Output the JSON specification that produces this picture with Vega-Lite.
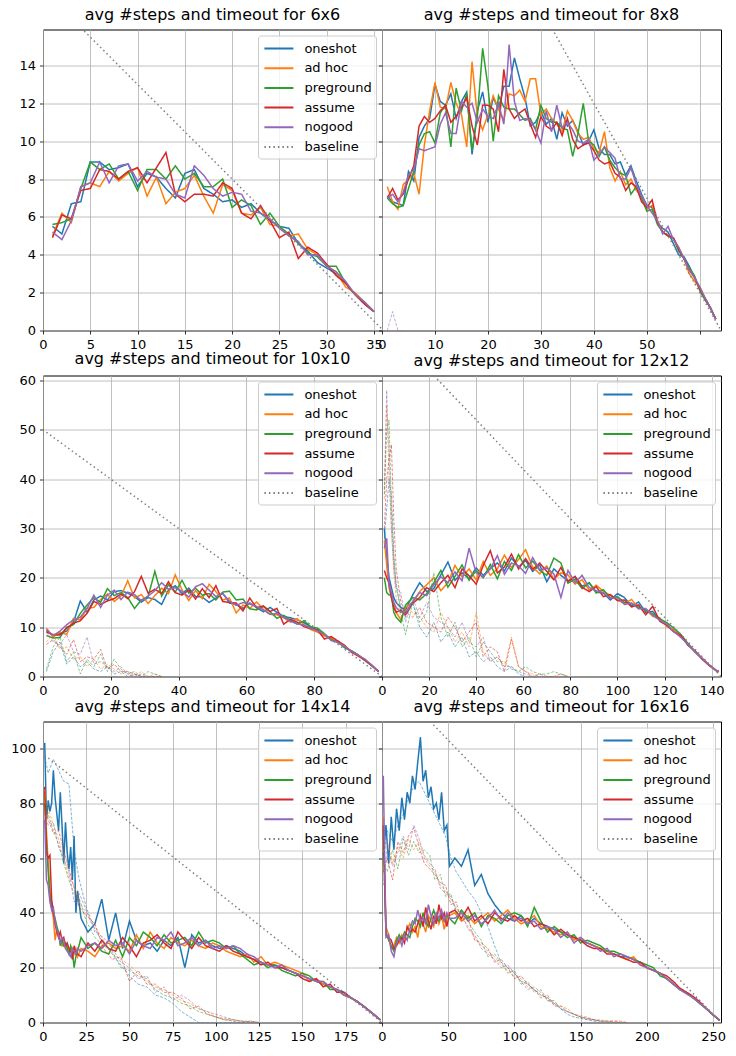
{
"$schema": "https://vega.github.io/schema/vega-lite/v6.json",
"background": "white",
"autosize": {"type": "pad"},
"padding": {"left": 10, "top": 5.5, "right": 4, "bottom": 4},
"bounds": "flush",
"columns": 2,
"spacing": {"row": 45, "column": 0},
"config": {
 "font": "DejaVu Sans",
 "view": {"stroke": "#000000", "strokeWidth": 1},
 "axis": {"domain": false, "grid": true, "gridColor": "#b0b0b0", "gridWidth": 0.8, "ticks": true, "tickColor": "#000000", "tickSize": 3.5, "tickWidth": 0.8, "labelFont": "DejaVu Sans", "labelFontSize": 13, "labelColor": "#000000", "labelPadding": 4, "title": null, "labelFlush": false, "labelOverlap": false, "labelBound": false},
 "legend": {"fillColor": "rgba(255,255,255,0.8)", "strokeColor": "#cccccc", "cornerRadius": 3, "padding": 4, "symbolType": "M-0.825,0H2.8", "symbolSize": 256, "symbolStrokeWidth": 2, "labelFont": "DejaVu Sans", "labelFontSize": 13, "labelColor": "#000000", "rowPadding": 3.7, "labelOffset": 24.4, "offset": 6},
 "title": {"font": "DejaVu Sans", "fontSize": 16, "fontWeight": "normal", "color": "#000000", "offset": 7}
},
"resolve": {"scale": {"color": "independent", "strokeDash": "independent"}, "legend": {"color": "independent", "strokeDash": "independent"}},
"datasets": {
"s6": [
{"x":1,"o":5.5,"a":5.0,"g":5.6,"r":4.9,"n":5.2},
{"x":2,"o":5.1,"a":6.2,"g":5.7,"r":6.1,"n":4.8},
{"x":3,"o":6.7,"a":5.7,"g":5.9,"r":5.9,"n":5.8},
{"x":4,"o":6.8,"a":7.6,"g":7.5,"r":7.4,"n":7.6},
{"x":5,"o":8.9,"a":7.8,"g":8.9,"r":7.5,"n":7.8},
{"x":6,"o":8.9,"a":7.6,"g":8.5,"r":8.5,"n":8.9},
{"x":7,"o":8.5,"a":8.4,"g":8.8,"r":8.4,"n":7.8},
{"x":8,"o":8.6,"a":7.9,"g":8.0,"r":8.0,"n":8.7},
{"x":9,"o":8.8,"a":8.3,"g":8.4,"r":8.4,"n":8.8},
{"x":10,"o":7.6,"a":8.6,"g":7.4,"r":8.6,"n":7.9},
{"x":11,"o":8.3,"a":7.1,"g":8.5,"r":7.8,"n":8.4},
{"x":12,"o":8.1,"a":8.1,"g":8.5,"r":8.6,"n":8.1},
{"x":13,"o":7.5,"a":6.7,"g":8.0,"r":9.4,"n":8.0},
{"x":14,"o":7.0,"a":7.3,"g":8.7,"r":7.2,"n":7.2},
{"x":15,"o":8.3,"a":7.5,"g":8.0,"r":6.8,"n":7.0},
{"x":16,"o":8.5,"a":8.2,"g":8.3,"r":7.2,"n":8.7},
{"x":17,"o":7.5,"a":7.1,"g":7.6,"r":7.2,"n":8.2},
{"x":18,"o":7.2,"a":6.2,"g":7.6,"r":7.1,"n":7.5},
{"x":19,"o":6.8,"a":7.7,"g":8.0,"r":7.8,"n":7.1},
{"x":20,"o":6.9,"a":7.4,"g":6.5,"r":7.5,"n":7.3},
{"x":21,"o":6.5,"a":6.2,"g":6.9,"r":6.2,"n":7.2},
{"x":22,"o":6.7,"a":6.1,"g":6.6,"r":5.9,"n":6.3},
{"x":23,"o":6.2,"a":6.5,"g":5.6,"r":6.6,"n":6.2},
{"x":24,"o":5.8,"a":5.6,"g":6.2,"r":5.8,"n":5.9},
{"x":25,"o":5.5,"a":5.5,"g":5.5,"r":4.9,"n":5.4},
{"x":26,"o":5.4,"a":5.0,"g":5.1,"r":5.2,"n":5.0},
{"x":27,"o":4.6,"a":5.1,"g":4.6,"r":3.8,"n":4.7},
{"x":28,"o":4.2,"a":4.3,"g":4.1,"r":4.4,"n":4.0},
{"x":29,"o":3.6,"a":4.0,"g":3.9,"r":4.1,"n":4.0},
{"x":30,"o":3.3,"a":3.4,"g":3.4,"r":3.5,"n":3.4},
{"x":31,"o":3.0,"a":3.1,"g":3.4,"r":2.9,"n":3.1},
{"x":32,"o":2.5,"a":2.3,"g":2.5,"r":2.5,"n":2.6},
{"x":33,"o":1.9,"a":2.0,"g":1.9,"r":1.9,"n":1.9},
{"x":34,"o":1.4,"a":1.5,"g":1.5,"r":1.4,"n":1.5},
{"x":35,"o":1.0,"a":1.0,"g":1.0,"r":1.0,"n":1.0}
],
"s8": [
{"x":1,"o":7.1,"a":7.6,"g":7.0,"r":7.0,"n":7.0},
{"x":2,"o":6.8,"a":6.8,"g":6.7,"r":7.5,"n":7.2},
{"x":3,"o":6.7,"a":6.4,"g":6.5,"r":6.9,"n":6.8},
{"x":4,"o":6.6,"a":7.7,"g":6.6,"r":7.2,"n":7.3},
{"x":5,"o":8.4,"a":8.0,"g":7.5,"r":8.0,"n":8.2},
{"x":6,"o":7.9,"a":8.3,"g":8.4,"r":8.7,"n":8.5},
{"x":7,"o":10.2,"a":7.2,"g":9.8,"r":10.8,"n":9.6},
{"x":8,"o":10.8,"a":9.8,"g":10.4,"r":11.3,"n":9.5},
{"x":9,"o":11.2,"a":11.6,"g":10.5,"r":11.0,"n":9.6},
{"x":10,"o":13.0,"a":13.1,"g":9.9,"r":11.2,"n":9.7},
{"x":11,"o":12.1,"a":11.8,"g":11.5,"r":11.6,"n":10.9},
{"x":12,"o":11.9,"a":11.7,"g":11.9,"r":11.9,"n":11.5},
{"x":13,"o":12.5,"a":13.1,"g":9.7,"r":11.0,"n":10.4},
{"x":14,"o":11.2,"a":12.0,"g":12.8,"r":11.3,"n":10.4},
{"x":15,"o":12.1,"a":11.4,"g":11.6,"r":11.8,"n":12.1},
{"x":16,"o":12.6,"a":9.7,"g":12.5,"r":12.3,"n":11.8},
{"x":17,"o":9.3,"a":14.2,"g":9.5,"r":10.8,"n":12.0},
{"x":18,"o":11.6,"a":11.3,"g":11.3,"r":9.8,"n":11.0},
{"x":19,"o":12.6,"a":10.6,"g":14.9,"r":11.9,"n":11.7},
{"x":20,"o":11.0,"a":11.4,"g":12.9,"r":11.9,"n":11.3},
{"x":21,"o":12.3,"a":12.4,"g":10.0,"r":11.7,"n":11.2},
{"x":22,"o":11.7,"a":11.7,"g":12.4,"r":10.5,"n":12.0},
{"x":23,"o":12.9,"a":11.1,"g":11.8,"r":13.8,"n":10.9},
{"x":24,"o":12.9,"a":12.5,"g":11.7,"r":11.7,"n":15.1},
{"x":25,"o":14.4,"a":12.4,"g":11.7,"r":11.2,"n":12.1},
{"x":26,"o":13.3,"a":12.7,"g":11.4,"r":11.5,"n":11.1},
{"x":27,"o":12.3,"a":12.1,"g":11.1,"r":11.7,"n":11.2},
{"x":28,"o":10.8,"a":13.3,"g":11.2,"r":10.9,"n":11.1},
{"x":29,"o":11.0,"a":13.3,"g":10.6,"r":10.2,"n":10.6},
{"x":30,"o":11.6,"a":11.4,"g":11.9,"r":11.3,"n":9.9},
{"x":31,"o":10.9,"a":11.7,"g":11.2,"r":10.8,"n":11.6},
{"x":32,"o":11.2,"a":11.2,"g":11.0,"r":10.6,"n":10.5},
{"x":33,"o":10.1,"a":10.9,"g":11.0,"r":11.0,"n":11.9},
{"x":34,"o":11.5,"a":10.5,"g":10.7,"r":10.3,"n":10.7},
{"x":35,"o":10.8,"a":11.6,"g":10.6,"r":11.2,"n":11.0},
{"x":36,"o":11.1,"a":11.1,"g":9.2,"r":10.1,"n":10.6},
{"x":37,"o":10.5,"a":10.4,"g":10.4,"r":9.6,"n":10.0},
{"x":38,"o":9.8,"a":10.1,"g":12.0,"r":9.8,"n":9.9},
{"x":39,"o":10.0,"a":10.2,"g":10.0,"r":9.9,"n":10.1},
{"x":40,"o":10.6,"a":9.6,"g":9.8,"r":9.5,"n":9.0},
{"x":41,"o":9.6,"a":9.4,"g":9.2,"r":9.0,"n":9.3},
{"x":42,"o":9.3,"a":10.5,"g":9.7,"r":8.8,"n":9.7},
{"x":43,"o":9.3,"a":8.6,"g":9.0,"r":8.9,"n":9.4},
{"x":44,"o":8.8,"a":7.9,"g":8.6,"r":8.3,"n":9.1},
{"x":45,"o":8.9,"a":8.4,"g":8.3,"r":8.1,"n":8.0},
{"x":46,"o":8.2,"a":7.7,"g":8.2,"r":7.4,"n":8.0},
{"x":47,"o":8.7,"a":8.0,"g":7.2,"r":7.8,"n":8.6},
{"x":48,"o":7.9,"a":7.4,"g":7.6,"r":7.6,"n":7.7},
{"x":49,"o":7.2,"a":7.1,"g":7.0,"r":6.8,"n":7.1},
{"x":50,"o":6.6,"a":6.4,"g":6.3,"r":6.5,"n":6.6},
{"x":51,"o":6.5,"a":6.6,"g":6.4,"r":6.9,"n":6.2},
{"x":52,"o":5.7,"a":5.8,"g":5.6,"r":5.7,"n":5.8},
{"x":53,"o":5.4,"a":5.2,"g":5.2,"r":5.2,"n":5.1},
{"x":54,"o":5.2,"a":5.0,"g":5.0,"r":5.0,"n":5.5},
{"x":55,"o":4.6,"a":4.9,"g":4.9,"r":4.9,"n":4.8},
{"x":56,"o":4.0,"a":4.4,"g":4.2,"r":4.3,"n":4.4},
{"x":57,"o":3.9,"a":3.8,"g":3.8,"r":3.8,"n":3.8},
{"x":58,"o":3.4,"a":3.0,"g":3.3,"r":3.2,"n":3.2},
{"x":59,"o":2.8,"a":2.6,"g":2.9,"r":2.8,"n":2.8},
{"x":60,"o":2.2,"a":2.3,"g":2.1,"r":2.2,"n":2.3},
{"x":61,"o":1.7,"a":1.7,"g":1.6,"r":1.7,"n":1.7},
{"x":62,"o":1.2,"a":1.2,"g":1.2,"r":1.2,"n":1.2},
{"x":63,"o":0.6,"a":0.6,"g":0.6,"r":0.6,"n":0.6}
],
"t8": [
{"x":1,"n":0},{"x":2,"n":1.0},{"x":3,"n":0},{"x":4,"n":0}
],
"s10": [
{"x":1,"o":9.3,"a":9.8,"g":8.3,"r":9.0,"n":9.5},
{"x":3,"o":8.2,"a":8.0,"g":7.8,"r":8.5,"n":8.3},
{"x":5,"o":8.7,"a":9.0,"g":7.9,"r":8.4,"n":9.2},
{"x":7,"o":9.2,"a":8.5,"g":10.0,"r":9.8,"n":10.5},
{"x":9,"o":11.0,"a":11.8,"g":10.5,"r":10.8,"n":11.5},
{"x":11,"o":15.3,"a":11.5,"g":12.8,"r":11.3,"n":12.0},
{"x":13,"o":13.0,"a":13.8,"g":14.5,"r":12.8,"n":13.8},
{"x":15,"o":15.5,"a":14.0,"g":16.0,"r":15.2,"n":16.5},
{"x":17,"o":16.3,"a":15.6,"g":15.0,"r":14.6,"n":14.0},
{"x":19,"o":15.5,"a":16.7,"g":17.8,"r":15.3,"n":16.5},
{"x":21,"o":17.2,"a":15.2,"g":16.4,"r":15.8,"n":17.5},
{"x":23,"o":17.4,"a":16.3,"g":17.0,"r":16.7,"n":15.6},
{"x":25,"o":16.9,"a":19.4,"g":16.0,"r":15.8,"n":17.1},
{"x":27,"o":16.2,"a":15.9,"g":13.8,"r":17.2,"n":16.6},
{"x":29,"o":15.1,"a":16.6,"g":15.5,"r":20.3,"n":15.4},
{"x":31,"o":16.0,"a":14.8,"g":16.2,"r":16.9,"n":16.3},
{"x":33,"o":15.6,"a":16.4,"g":21.3,"r":17.7,"n":17.4},
{"x":35,"o":14.6,"a":17.9,"g":16.3,"r":16.8,"n":19.0},
{"x":37,"o":17.5,"a":16.8,"g":18.6,"r":19.2,"n":17.7},
{"x":39,"o":18.4,"a":20.6,"g":17.1,"r":17.0,"n":18.0},
{"x":41,"o":16.8,"a":17.6,"g":19.5,"r":16.5,"n":17.3},
{"x":43,"o":17.9,"a":15.4,"g":16.9,"r":17.5,"n":16.1},
{"x":45,"o":16.2,"a":17.4,"g":17.9,"r":15.7,"n":18.2},
{"x":47,"o":16.1,"a":15.8,"g":16.5,"r":17.8,"n":18.8},
{"x":49,"o":15.0,"a":18.7,"g":16.8,"r":16.0,"n":17.5},
{"x":51,"o":15.9,"a":17.2,"g":15.5,"r":18.4,"n":16.2},
{"x":53,"o":16.9,"a":15.5,"g":17.1,"r":15.2,"n":16.8},
{"x":55,"o":14.9,"a":15.9,"g":17.3,"r":15.0,"n":15.3},
{"x":57,"o":14.6,"a":12.9,"g":15.5,"r":14.9,"n":14.4},
{"x":59,"o":13.8,"a":14.5,"g":15.7,"r":13.3,"n":15.0},
{"x":61,"o":14.9,"a":13.8,"g":13.7,"r":15.9,"n":14.7},
{"x":63,"o":14.0,"a":15.1,"g":13.5,"r":13.9,"n":14.2},
{"x":65,"o":13.1,"a":13.6,"g":14.2,"r":14.3,"n":13.5},
{"x":67,"o":14.0,"a":12.6,"g":13.1,"r":13.2,"n":12.6},
{"x":69,"o":13.0,"a":12.5,"g":11.8,"r":13.8,"n":12.8},
{"x":71,"o":12.2,"a":11.9,"g":12.4,"r":10.6,"n":12.0},
{"x":73,"o":11.9,"a":11.0,"g":11.4,"r":11.6,"n":11.2},
{"x":75,"o":11.5,"a":11.7,"g":10.6,"r":11.0,"n":10.7},
{"x":77,"o":10.9,"a":10.5,"g":11.3,"r":10.1,"n":10.4},
{"x":79,"o":10.0,"a":9.5,"g":10.1,"r":9.7,"n":9.8},
{"x":81,"o":9.5,"a":9.0,"g":9.8,"r":9.4,"n":9.2},
{"x":83,"o":8.4,"a":8.2,"g":8.7,"r":7.6,"n":8.6},
{"x":85,"o":7.6,"a":7.9,"g":7.4,"r":8.1,"n":7.3},
{"x":87,"o":7.1,"a":6.8,"g":7.0,"r":7.2,"n":6.9},
{"x":89,"o":6.0,"a":6.2,"g":5.8,"r":6.3,"n":6.1},
{"x":91,"o":5.2,"a":5.0,"g":5.2,"r":4.9,"n":5.1},
{"x":93,"o":4.3,"a":4.1,"g":4.4,"r":4.2,"n":4.3},
{"x":95,"o":3.3,"a":3.4,"g":3.2,"r":3.3,"n":3.5},
{"x":97,"o":2.2,"a":2.3,"g":2.2,"r":2.2,"n":2.3},
{"x":99,"o":1.0,"a":1.0,"g":1.0,"r":1.0,"n":1.0}
],
"t10": [
{"x":1,"o":1.0,"a":7.0,"g":1.5,"r":6.5,"n":9.0},
{"x":3,"o":5.0,"a":8.5,"g":6.0,"r":7.5,"n":7.0},
{"x":5,"o":7.0,"a":5.5,"g":8.0,"r":6.0,"n":6.5},
{"x":7,"o":2.5,"a":6.0,"g":3.0,"r":4.5,"n":8.5},
{"x":9,"o":4.0,"a":3.5,"g":5.0,"r":7.5,"n":5.0},
{"x":11,"o":2.0,"a":4.0,"g":0.5,"r":3.0,"n":4.5},
{"x":13,"o":3.0,"a":2.0,"g":3.5,"r":4.0,"n":8.0},
{"x":15,"o":1.5,"a":3.5,"g":2.0,"r":3.5,"n":2.5},
{"x":17,"o":1.0,"a":1.5,"g":4.5,"r":5.5,"n":3.0},
{"x":19,"o":2.0,"a":2.5,"g":1.0,"r":1.5,"n":2.0},
{"x":21,"o":0.5,"a":1.5,"g":3.5,"r":2.5,"n":1.0},
{"x":23,"o":1.0,"a":0.5,"g":1.5,"r":1.0,"n":2.0},
{"x":25,"o":0.0,"a":1.0,"g":0.5,"r":1.0,"n":0.5},
{"x":27,"o":0.5,"a":0.0,"g":1.0,"r":0.5,"n":0.0},
{"x":29,"o":0.0,"a":1.0,"g":0.0,"r":0.0,"n":0.5},
{"x":31,"o":0.0,"a":0.0,"g":1.0,"r":0.0,"n":0.0},
{"x":33,"o":0.0,"a":0.5,"g":0.5,"r":0.0,"n":0.0},
{"x":35,"o":0.0,"a":0.0,"g":0.0,"r":0.0,"n":0.0}
],
"s12": [
{"x":1,"o":30.0,"a":27.5,"g":20.0,"r":21.5,"n":26.0},
{"x":2,"o":24.0,"a":22.5,"g":17.0,"r":20.0,"n":28.0},
{"x":3,"o":20.0,"a":18.0,"g":16.5,"r":19.0,"n":18.5},
{"x":4,"o":18.0,"a":16.0,"g":16.5,"r":16.0,"n":17.0},
{"x":5,"o":16.0,"a":15.0,"g":13.0,"r":14.0,"n":15.0},
{"x":6,"o":15.0,"a":13.0,"g":12.0,"r":13.0,"n":14.0},
{"x":8,"o":14.0,"a":11.5,"g":11.0,"r":13.5,"n":13.0},
{"x":10,"o":13.5,"a":14.0,"g":14.5,"r":12.5,"n":13.0},
{"x":13,"o":16.5,"a":15.0,"g":16.0,"r":14.8,"n":15.2},
{"x":16,"o":19.0,"a":17.2,"g":15.5,"r":16.0,"n":17.0},
{"x":19,"o":17.2,"a":18.6,"g":16.8,"r":18.0,"n":16.4},
{"x":22,"o":17.8,"a":20.0,"g":19.0,"r":17.2,"n":18.6},
{"x":25,"o":20.6,"a":17.4,"g":21.5,"r":19.0,"n":20.2},
{"x":28,"o":23.2,"a":19.0,"g":18.1,"r":20.5,"n":19.0},
{"x":31,"o":19.5,"a":22.5,"g":20.3,"r":18.0,"n":21.2},
{"x":34,"o":21.0,"a":20.2,"g":22.6,"r":21.8,"n":19.4},
{"x":37,"o":19.8,"a":21.8,"g":19.5,"r":20.4,"n":26.0},
{"x":40,"o":22.0,"a":19.6,"g":21.5,"r":18.7,"n":21.0},
{"x":43,"o":20.5,"a":23.3,"g":20.0,"r":22.5,"n":20.2},
{"x":46,"o":21.9,"a":20.5,"g":22.7,"r":25.5,"n":21.8},
{"x":49,"o":23.0,"a":21.8,"g":19.8,"r":21.0,"n":24.5},
{"x":52,"o":21.4,"a":24.6,"g":23.3,"r":22.2,"n":20.7},
{"x":55,"o":24.0,"a":22.1,"g":21.5,"r":24.8,"n":23.0},
{"x":58,"o":22.2,"a":23.7,"g":24.7,"r":21.8,"n":22.4},
{"x":61,"o":23.5,"a":25.7,"g":22.0,"r":23.9,"n":20.9},
{"x":64,"o":21.3,"a":22.2,"g":23.4,"r":21.7,"n":24.1},
{"x":67,"o":22.6,"a":20.8,"g":21.5,"r":23.0,"n":21.6},
{"x":70,"o":19.2,"a":22.4,"g":20.5,"r":21.3,"n":22.0},
{"x":73,"o":21.8,"a":19.7,"g":24.0,"r":19.6,"n":20.8},
{"x":76,"o":20.5,"a":21.0,"g":23.0,"r":22.1,"n":16.0},
{"x":79,"o":19.4,"a":20.6,"g":18.9,"r":19.2,"n":21.5},
{"x":82,"o":20.2,"a":18.7,"g":19.7,"r":20.3,"n":19.0},
{"x":85,"o":18.3,"a":19.6,"g":17.8,"r":18.1,"n":20.5},
{"x":88,"o":19.0,"a":17.5,"g":19.0,"r":17.2,"n":18.0},
{"x":91,"o":17.1,"a":18.5,"g":16.9,"r":18.2,"n":17.4},
{"x":94,"o":16.9,"a":17.3,"g":17.6,"r":16.2,"n":17.0},
{"x":97,"o":15.5,"a":16.4,"g":15.9,"r":16.6,"n":15.8},
{"x":100,"o":16.8,"a":15.5,"g":16.2,"r":15.4,"n":16.0},
{"x":103,"o":16.0,"a":14.8,"g":15.0,"r":15.5,"n":14.6},
{"x":106,"o":14.3,"a":15.6,"g":14.8,"r":14.1,"n":14.9},
{"x":109,"o":15.1,"a":13.9,"g":14.0,"r":14.5,"n":13.7},
{"x":112,"o":13.0,"a":13.6,"g":13.4,"r":12.5,"n":13.8},
{"x":115,"o":13.2,"a":12.2,"g":12.7,"r":14.2,"n":12.4},
{"x":118,"o":11.5,"a":11.9,"g":11.7,"r":11.2,"n":11.4},
{"x":121,"o":10.5,"a":10.1,"g":10.9,"r":10.4,"n":10.6},
{"x":124,"o":9.2,"a":9.5,"g":9.8,"r":9.0,"n":9.1},
{"x":127,"o":8.2,"a":8.0,"g":8.5,"r":8.3,"n":7.9},
{"x":130,"o":6.4,"a":6.6,"g":6.7,"r":6.3,"n":6.5},
{"x":133,"o":5.0,"a":5.1,"g":4.9,"r":5.2,"n":5.0},
{"x":136,"o":3.6,"a":3.7,"g":3.6,"r":3.5,"n":3.7},
{"x":139,"o":2.3,"a":2.4,"g":2.3,"r":2.2,"n":2.3},
{"x":142,"o":1.2,"a":1.2,"g":1.2,"r":1.2,"n":1.2},
{"x":143,"o":1.0,"a":1.0,"g":1.0,"r":1.0,"n":1.0}
],
"t12": [
{"x":1,"o":28,"a":36,"g":37,"r":30,"n":38},
{"x":2,"o":34,"a":55,"g":50,"r":40,"n":58},
{"x":3,"o":40,"a":46,"g":52,"r":44,"n":40},
{"x":4,"o":37,"a":30,"g":34,"r":47,"n":30},
{"x":5,"o":25,"a":21,"g":24,"r":32,"n":22},
{"x":6,"o":18,"a":16,"g":19,"r":22,"n":18},
{"x":8,"o":14,"a":12,"g":13,"r":15,"n":17},
{"x":10,"o":12,"a":14,"g":8.5,"r":13,"n":11},
{"x":13,"o":15,"a":13,"g":15,"r":12,"n":16},
{"x":16,"o":10,"a":12,"g":11,"r":14,"n":12},
{"x":19,"o":8,"a":10,"g":13,"r":11,"n":15},
{"x":22,"o":11,"a":9,"g":21,"r":10,"n":12},
{"x":25,"o":7,"a":13,"g":12,"r":9,"n":11},
{"x":28,"o":9,"a":10,"g":8,"r":12,"n":10},
{"x":31,"o":6,"a":7,"g":11,"r":10,"n":8},
{"x":34,"o":8,"a":9,"g":6,"r":7,"n":11},
{"x":37,"o":4,"a":6,"g":8,"r":9,"n":7},
{"x":40,"o":5,"a":13,"g":4,"r":11,"n":6},
{"x":43,"o":3,"a":5,"g":7,"r":4,"n":8},
{"x":46,"o":4,"a":3,"g":5,"r":6,"n":3},
{"x":49,"o":2,"a":4,"g":3,"r":5,"n":4},
{"x":52,"o":1,"a":2,"g":3,"r":1,"n":2},
{"x":55,"o":2,"a":8,"g":1.5,"r":7.5,"n":2},
{"x":58,"o":0.5,"a":2,"g":1,"r":2,"n":1},
{"x":61,"o":0,"a":1,"g":2,"r":1,"n":0.5},
{"x":64,"o":0,"a":0.5,"g":1,"r":0,"n":0},
{"x":67,"o":0,"a":0,"g":0.5,"r":0.5,"n":0},
{"x":70,"o":0,"a":0,"g":0.5,"r":0,"n":0},
{"x":73,"o":0,"a":0,"g":1,"r":0,"n":0},
{"x":76,"o":0,"a":0,"g":0.5,"r":0.5,"n":0},
{"x":79,"o":0,"a":0,"g":0,"r":0,"n":0}
],
"s14": [
{"x":1,"o":102,"a":84,"g":80,"r":86,"n":74},
{"x":2,"o":74,"a":70,"g":66,"r":62,"n":52},
{"x":3,"o":81,"a":58,"g":55,"r":60,"n":50},
{"x":4,"o":77,"a":48,"g":46,"r":61,"n":44},
{"x":5,"o":80,"a":42,"g":42,"r":45,"n":41},
{"x":6,"o":92,"a":38,"g":40,"r":40,"n":42},
{"x":7,"o":82,"a":30,"g":38,"r":36,"n":37},
{"x":8,"o":76,"a":34,"g":35,"r":33,"n":34},
{"x":9,"o":70,"a":32,"g":33,"r":31,"n":32},
{"x":10,"o":84,"a":30,"g":28,"r":33,"n":29},
{"x":11,"o":72,"a":28,"g":30,"r":30,"n":31},
{"x":12,"o":58,"a":29,"g":28,"r":31,"n":30},
{"x":13,"o":73,"a":27,"g":29,"r":28,"n":27},
{"x":14,"o":62,"a":28,"g":27,"r":29,"n":26},
{"x":15,"o":56,"a":26,"g":25,"r":27,"n":25},
{"x":16,"o":64,"a":27,"g":28,"r":26,"n":24},
{"x":17,"o":52,"a":27,"g":26,"r":23,"n":27},
{"x":18,"o":68,"a":25,"g":20,"r":28,"n":26},
{"x":19,"o":40,"a":27,"g":24,"r":25,"n":25},
{"x":20,"o":48,"a":24,"g":26,"r":25,"n":27},
{"x":22,"o":38,"a":27,"g":31,"r":24,"n":26},
{"x":26,"o":33,"a":26,"g":27,"r":29,"n":28},
{"x":30,"o":36,"a":24,"g":29,"r":26,"n":29},
{"x":34,"o":45,"a":28,"g":26,"r":30,"n":27},
{"x":38,"o":30,"a":29,"g":25,"r":27,"n":30},
{"x":42,"o":40,"a":27,"g":30,"r":26,"n":28},
{"x":46,"o":27,"a":28,"g":24,"r":31,"n":29},
{"x":50,"o":37,"a":26,"g":31,"r":28,"n":25},
{"x":54,"o":30,"a":32,"g":28,"r":24,"n":30},
{"x":58,"o":28,"a":27,"g":33,"r":29,"n":28},
{"x":62,"o":29,"a":33,"g":31,"r":30,"n":27},
{"x":66,"o":26,"a":29,"g":28,"r":32,"n":31},
{"x":70,"o":30,"a":27,"g":32,"r":29,"n":30},
{"x":74,"o":28,"a":31,"g":29,"r":27,"n":33},
{"x":78,"o":31,"a":29,"g":30,"r":33,"n":28},
{"x":82,"o":20,"a":28,"g":31,"r":30,"n":29},
{"x":86,"o":32,"a":30,"g":28,"r":27,"n":31},
{"x":90,"o":29,"a":28,"g":33,"r":31,"n":28},
{"x":94,"o":30,"a":27,"g":29,"r":28,"n":30},
{"x":98,"o":28,"a":29,"g":30,"r":27,"n":27},
{"x":102,"o":27,"a":28,"g":29,"r":26,"n":28},
{"x":106,"o":28,"a":26,"g":27,"r":28,"n":27},
{"x":110,"o":27,"a":25,"g":28,"r":26,"n":28},
{"x":114,"o":26,"a":24,"g":25,"r":25,"n":27},
{"x":118,"o":24,"a":25,"g":23,"r":24,"n":25},
{"x":122,"o":23,"a":22,"g":21,"r":23,"n":24},
{"x":126,"o":22,"a":24,"g":22,"r":21,"n":22},
{"x":130,"o":21,"a":21,"g":20,"r":22,"n":21},
{"x":134,"o":21,"a":22,"g":21,"r":20,"n":20},
{"x":138,"o":20,"a":21,"g":19,"r":20,"n":21},
{"x":142,"o":19,"a":20,"g":18,"r":19,"n":19},
{"x":146,"o":18,"a":19,"g":17,"r":18,"n":18},
{"x":150,"o":17,"a":18,"g":18,"r":16,"n":17},
{"x":154,"o":16,"a":15,"g":17,"r":15,"n":16},
{"x":158,"o":15,"a":16,"g":15,"r":16,"n":15},
{"x":162,"o":14,"a":14,"g":15,"r":13,"n":15},
{"x":166,"o":13,"a":13,"g":12,"r":14,"n":13},
{"x":170,"o":12,"a":12,"g":12,"r":11,"n":12},
{"x":174,"o":11,"a":10,"g":10,"r":11,"n":10},
{"x":178,"o":9,"a":9,"g":9,"r":9,"n":9},
{"x":182,"o":7.5,"a":7.5,"g":7.5,"r":7.5,"n":7.5},
{"x":186,"o":5.6,"a":5.6,"g":5.7,"r":5.6,"n":5.5},
{"x":190,"o":3.6,"a":3.6,"g":3.6,"r":3.6,"n":3.6},
{"x":194,"o":1.5,"a":1.5,"g":1.5,"r":1.5,"n":1.5},
{"x":195,"o":1.0,"a":1.0,"g":1.0,"r":1.0,"n":1.0}
],
"t14": [
{"x":1,"o":97,"a":85,"g":82,"r":80,"n":76},
{"x":3,"o":91,"a":78,"g":76,"r":74,"n":72},
{"x":6,"o":96,"a":72,"g":70,"r":69,"n":73},
{"x":9,"o":92,"a":67,"g":65,"r":70,"n":64},
{"x":12,"o":88,"a":60,"g":58,"r":63,"n":60},
{"x":15,"o":87,"a":53,"g":52,"r":56,"n":55},
{"x":18,"o":63,"a":50,"g":47,"r":49,"n":44},
{"x":21,"o":52,"a":44,"g":45,"r":42,"n":47},
{"x":25,"o":42,"a":40,"g":37,"r":39,"n":41},
{"x":30,"o":34,"a":35,"g":31,"r":36,"n":33},
{"x":35,"o":29,"a":30,"g":28,"r":27,"n":31},
{"x":40,"o":25,"a":25,"g":26,"r":23,"n":27},
{"x":45,"o":21,"a":23,"g":20,"r":24,"n":22},
{"x":50,"o":17,"a":21,"g":19,"r":15,"n":20},
{"x":55,"o":14,"a":18,"g":17,"r":19,"n":16},
{"x":60,"o":13,"a":15,"g":16,"r":14,"n":17},
{"x":65,"o":10,"a":13,"g":12,"r":14,"n":11},
{"x":70,"o":9,"a":12,"g":10,"r":11,"n":13},
{"x":75,"o":7,"a":10,"g":9,"r":11,"n":8},
{"x":80,"o":4,"a":8,"g":7,"r":9,"n":10},
{"x":85,"o":2,"a":7,"g":6,"r":5,"n":8},
{"x":90,"o":0,"a":5,"g":4,"r":6,"n":5},
{"x":95,"o":0,"a":4,"g":3,"r":3,"n":4},
{"x":100,"o":0,"a":2,"g":2,"r":2,"n":3},
{"x":105,"o":0,"a":1.5,"g":1,"r":1,"n":2},
{"x":110,"o":0,"a":1,"g":1,"r":0.5,"n":1},
{"x":115,"o":0,"a":0.5,"g":0.5,"r":0,"n":0.5},
{"x":120,"o":0,"a":0,"g":0.5,"r":0.5,"n":0},
{"x":125,"o":0,"a":0,"g":0,"r":0,"n":0}
],
"s16": [
{"x":1,"o":61,"a":75,"g":70,"r":72,"n":90},
{"x":3,"o":72,"a":35,"g":33,"r":32,"n":31},
{"x":5,"o":58,"a":32,"g":30,"r":31,"n":32},
{"x":7,"o":75,"a":27,"g":28,"r":30,"n":26},
{"x":9,"o":63,"a":28,"g":26,"r":27,"n":24},
{"x":11,"o":78,"a":31,"g":30,"r":28,"n":29},
{"x":13,"o":70,"a":29,"g":32,"r":30,"n":31},
{"x":15,"o":82,"a":32,"g":30,"r":31,"n":28},
{"x":17,"o":74,"a":31,"g":33,"r":29,"n":32},
{"x":19,"o":84,"a":34,"g":32,"r":35,"n":30},
{"x":21,"o":80,"a":36,"g":31,"r":33,"n":34},
{"x":23,"o":90,"a":33,"g":35,"r":34,"n":37},
{"x":25,"o":85,"a":35,"g":38,"r":33,"n":36},
{"x":27,"o":95,"a":31,"g":37,"r":36,"n":41},
{"x":29,"o":104,"a":38,"g":35,"r":39,"n":37},
{"x":31,"o":88,"a":36,"g":40,"r":35,"n":38},
{"x":33,"o":92,"a":33,"g":37,"r":42,"n":36},
{"x":35,"o":82,"a":39,"g":35,"r":37,"n":43},
{"x":37,"o":86,"a":37,"g":38,"r":34,"n":39},
{"x":39,"o":78,"a":35,"g":41,"r":39,"n":36},
{"x":41,"o":80,"a":40,"g":38,"r":36,"n":40},
{"x":43,"o":74,"a":36,"g":37,"r":43,"n":38},
{"x":45,"o":84,"a":39,"g":40,"r":38,"n":41},
{"x":47,"o":70,"a":34,"g":37,"r":40,"n":37},
{"x":49,"o":72,"a":38,"g":39,"r":35,"n":40},
{"x":51,"o":57,"a":39,"g":38,"r":40,"n":38},
{"x":55,"o":60,"a":40,"g":36,"r":41,"n":38},
{"x":60,"o":57,"a":37,"g":41,"r":38,"n":40},
{"x":65,"o":63,"a":39,"g":38,"r":42,"n":37},
{"x":70,"o":50,"a":36,"g":40,"r":37,"n":39},
{"x":75,"o":54,"a":38,"g":35,"r":39,"n":36},
{"x":80,"o":47,"a":40,"g":39,"r":36,"n":38},
{"x":85,"o":43,"a":37,"g":38,"r":40,"n":41},
{"x":90,"o":40,"a":39,"g":36,"r":38,"n":37},
{"x":95,"o":38,"a":41,"g":39,"r":37,"n":40},
{"x":100,"o":37,"a":38,"g":40,"r":39,"n":37},
{"x":105,"o":39,"a":36,"g":39,"r":37,"n":38},
{"x":110,"o":36,"a":37,"g":35,"r":38,"n":36},
{"x":115,"o":38,"a":39,"g":42,"r":35,"n":37},
{"x":120,"o":36,"a":35,"g":37,"r":36,"n":34},
{"x":125,"o":35,"a":34,"g":33,"r":35,"n":35},
{"x":130,"o":34,"a":33,"g":35,"r":32,"n":34},
{"x":135,"o":33,"a":32,"g":33,"r":34,"n":31},
{"x":140,"o":32,"a":33,"g":31,"r":32,"n":33},
{"x":145,"o":31,"a":30,"g":32,"r":31,"n":29},
{"x":150,"o":30,"a":31,"g":29,"r":30,"n":31},
{"x":155,"o":29,"a":29,"g":30,"r":28,"n":29},
{"x":160,"o":28,"a":28,"g":29,"r":27,"n":28},
{"x":165,"o":27,"a":27,"g":28,"r":27,"n":26},
{"x":170,"o":26,"a":26,"g":26,"r":25,"n":27},
{"x":175,"o":25,"a":25,"g":26,"r":25,"n":24},
{"x":180,"o":24,"a":24,"g":25,"r":24,"n":25},
{"x":185,"o":24,"a":23,"g":24,"r":23,"n":24},
{"x":190,"o":23,"a":24,"g":23,"r":22,"n":23},
{"x":195,"o":22,"a":21,"g":22,"r":22,"n":21},
{"x":200,"o":20,"a":20,"g":21,"r":20,"n":20},
{"x":205,"o":19,"a":19,"g":20,"r":19,"n":19},
{"x":210,"o":18,"a":18,"g":17,"r":18,"n":18},
{"x":215,"o":16,"a":16,"g":16,"r":17,"n":16},
{"x":220,"o":14,"a":14,"g":14,"r":15,"n":14},
{"x":225,"o":12,"a":12,"g":12,"r":12.5,"n":12},
{"x":230,"o":11,"a":11,"g":10.5,"r":11,"n":10.5},
{"x":235,"o":9,"a":9,"g":9,"r":9.5,"n":9},
{"x":240,"o":7,"a":7,"g":7,"r":7.5,"n":7},
{"x":245,"o":5,"a":5,"g":5,"r":5,"n":5},
{"x":250,"o":2.8,"a":2.8,"g":2.8,"r":2.8,"n":2.8},
{"x":255,"o":0.8,"a":0.8,"g":0.8,"r":0.8,"n":0.8}
],
"t16": [
{"x":1,"o":60,"a":62,"g":58,"r":55,"n":50},
{"x":4,"o":70,"a":66,"g":55,"r":60,"n":64},
{"x":8,"o":66,"a":58,"g":63,"r":52,"n":57},
{"x":12,"o":72,"a":64,"g":56,"r":66,"n":62},
{"x":16,"o":76,"a":60,"g":67,"r":62,"n":68},
{"x":20,"o":82,"a":67,"g":61,"r":68,"n":63},
{"x":24,"o":86,"a":63,"g":66,"r":71,"n":72},
{"x":28,"o":88,"a":66,"g":62,"r":64,"n":67},
{"x":32,"o":84,"a":60,"g":63,"r":58,"n":61},
{"x":36,"o":80,"a":57,"g":61,"r":56,"n":58},
{"x":40,"o":76,"a":55,"g":52,"r":54,"n":56},
{"x":44,"o":72,"a":50,"g":54,"r":51,"n":49},
{"x":48,"o":68,"a":48,"g":46,"r":50,"n":47},
{"x":52,"o":60,"a":45,"g":47,"r":43,"n":46},
{"x":56,"o":55,"a":42,"g":40,"r":44,"n":41},
{"x":60,"o":52,"a":39,"g":41,"r":37,"n":40},
{"x":65,"o":48,"a":35,"g":37,"r":38,"n":34},
{"x":70,"o":45,"a":31,"g":33,"r":30,"n":32},
{"x":75,"o":40,"a":28,"g":30,"r":29,"n":27},
{"x":80,"o":35,"a":26,"g":24,"r":27,"n":25},
{"x":85,"o":28,"a":24,"g":25,"r":22,"n":23},
{"x":90,"o":22,"a":21,"g":22,"r":23,"n":20},
{"x":95,"o":20,"a":19,"g":18,"r":20,"n":21},
{"x":100,"o":18,"a":17,"g":19,"r":16,"n":18},
{"x":105,"o":15,"a":16,"g":14,"r":17,"n":15},
{"x":110,"o":14,"a":13,"g":15,"r":14,"n":12},
{"x":115,"o":12,"a":12,"g":11,"r":12,"n":13},
{"x":120,"o":10,"a":10,"g":12,"r":9,"n":11},
{"x":125,"o":9,"a":9,"g":8,"r":10,"n":8},
{"x":130,"o":7,"a":7,"g":8,"r":6,"n":7},
{"x":135,"o":5,"a":6,"g":5,"r":6,"n":5},
{"x":140,"o":3,"a":5,"g":4,"r":4,"n":4},
{"x":145,"o":2,"a":3,"g":3,"r":3,"n":3},
{"x":150,"o":1.5,"a":2.5,"g":2,"r":2,"n":2},
{"x":155,"o":1,"a":2,"g":1.5,"r":1.5,"n":1},
{"x":160,"o":0.5,"a":1,"g":1,"r":1,"n":1},
{"x":165,"o":0,"a":1,"g":0.5,"r":0.5,"n":0.5},
{"x":170,"o":0,"a":0.5,"g":0.5,"r":0.5,"n":0},
{"x":175,"o":0,"a":0.5,"g":0,"r":0.5,"n":0},
{"x":180,"o":0,"a":0,"g":0,"r":0.5,"n":0},
{"x":185,"o":0,"a":0,"g":0,"r":0,"n":0}
]
},
"concat": [
 {"title": "avg #steps and timeout for 6x6", "width": 339, "height": 301,
  "layer": [
   {"data": {"name": "s6"}, "transform": [{"fold": ["o","a","g","r","n"], "as": ["s","v"]}],
    "mark": {"type": "line", "strokeWidth": 1.5, "clip": true},
    "encoding": {
     "x": {"field": "x", "type": "quantitative", "scale": {"domain": [0,35.85], "nice": false}, "axis": {"values": [0,5,10,15,20,25,30,35]}},
     "y": {"field": "v", "type": "quantitative", "scale": {"domain": [0,15.9], "nice": false}, "axis": {"values": [0,2,4,6,8,10,12,14]}},
     "color": {"field": "s", "type": "nominal", "scale": {"domain": ["o","a","g","r","n","b"], "range": ["#1f77b4","#ff7f0e","#2ca02c","#d62728","#9467bd","#808080"]}, "legend": {"title": null, "orient": "top-right", "labelExpr": "datum.label=='o'?'oneshot':datum.label=='a'?'ad hoc':datum.label=='g'?'preground':datum.label=='r'?'assume':datum.label=='n'?'nogood':'baseline'"}},
     "strokeDash": {"field": "s", "type": "nominal", "scale": {"domain": ["o","a","g","r","n","b"], "range": [[1,0],[1,0],[1,0],[1,0],[1,0],[1.5,3]]}, "legend": {"title": null, "orient": "top-right", "labelExpr": "datum.label=='o'?'oneshot':datum.label=='a'?'ad hoc':datum.label=='g'?'preground':datum.label=='r'?'assume':datum.label=='n'?'nogood':'baseline'"}}
    }},
   {"data": {"values": [{"x":1,"b":17.5},{"x":36,"b":0}]}, "transform": [{"fold": ["b"], "as": ["s","v"]}],
    "mark": {"type": "line", "strokeWidth": 1.5, "clip": true},
    "encoding": {
     "x": {"field": "x", "type": "quantitative"},
     "y": {"field": "v", "type": "quantitative"},
     "color": {"field": "s", "type": "nominal", "scale": {"domain": ["o","a","g","r","n","b"], "range": ["#1f77b4","#ff7f0e","#2ca02c","#d62728","#9467bd","#808080"]}, "legend": null},
     "strokeDash": {"field": "s", "type": "nominal", "scale": {"domain": ["o","a","g","r","n","b"], "range": [[1,0],[1,0],[1,0],[1,0],[1,0],[1.5,3]]}, "legend": null}
    }}
  ]},
 {"title": "avg #steps and timeout for 8x8", "width": 339, "height": 301,
  "layer": [
   {"data": {"name": "s8"}, "transform": [{"fold": ["o","a","g","r","n"], "as": ["s","v"]}],
    "mark": {"type": "line", "strokeWidth": 1.5, "clip": true},
    "encoding": {
     "x": {"field": "x", "type": "quantitative", "scale": {"domain": [0,64], "nice": false}, "axis": {"values": [0,10,20,30,40,50,60], "labelExpr": "datum.value==60?'':datum.label"}},
     "y": {"field": "v", "type": "quantitative", "scale": {"domain": [0,15.9], "nice": false}, "axis": {"values": [0,2,4,6,8,10,12,14], "labels": false}},
     "color": {"field": "s", "type": "nominal", "scale": {"domain": ["o","a","g","r","n","b"], "range": ["#1f77b4","#ff7f0e","#2ca02c","#d62728","#9467bd","#808080"]}, "legend": null},
     "strokeDash": {"field": "s", "type": "nominal", "scale": {"domain": ["o","a","g","r","n","b"], "range": [[1,0],[1,0],[1,0],[1,0],[1,0],[1.5,3]]}, "legend": null}
    }},
   {"data": {"name": "t8"}, "transform": [{"fold": ["n"], "as": ["s","v"]}],
    "mark": {"type": "line", "strokeWidth": 0.8, "strokeDash": [3,1.5], "opacity": 0.7, "clip": true},
    "encoding": {
     "x": {"field": "x", "type": "quantitative"},
     "y": {"field": "v", "type": "quantitative"},
     "color": {"field": "s", "type": "nominal", "scale": {"domain": ["o","a","g","r","n","b"], "range": ["#1f77b4","#ff7f0e","#2ca02c","#d62728","#9467bd","#808080"]}, "legend": null}
    }},
   {"data": {"values": [{"x":1,"b":31.5},{"x":64,"b":0}]}, "transform": [{"fold": ["b"], "as": ["s","v"]}],
    "mark": {"type": "line", "strokeWidth": 1.5, "clip": true},
    "encoding": {
     "x": {"field": "x", "type": "quantitative"},
     "y": {"field": "v", "type": "quantitative"},
     "color": {"field": "s", "type": "nominal", "scale": {"domain": ["o","a","g","r","n","b"], "range": ["#1f77b4","#ff7f0e","#2ca02c","#d62728","#9467bd","#808080"]}, "legend": null},
     "strokeDash": {"field": "s", "type": "nominal", "scale": {"domain": ["o","a","g","r","n","b"], "range": [[1,0],[1,0],[1,0],[1,0],[1,0],[1.5,3]]}, "legend": null}
    }}
  ]},
 {"title": "avg #steps and timeout for 10x10", "width": 339, "height": 301,
  "layer": [
   {"data": {"name": "s10"}, "transform": [{"fold": ["o","a","g","r","n"], "as": ["s","v"]}],
    "mark": {"type": "line", "strokeWidth": 1.5, "clip": true},
    "encoding": {
     "x": {"field": "x", "type": "quantitative", "scale": {"domain": [0,100], "nice": false}, "axis": {"values": [0,20,40,60,80]}},
     "y": {"field": "v", "type": "quantitative", "scale": {"domain": [0,61], "nice": false}, "axis": {"values": [0,10,20,30,40,50,60]}},
     "color": {"field": "s", "type": "nominal", "scale": {"domain": ["o","a","g","r","n","b"], "range": ["#1f77b4","#ff7f0e","#2ca02c","#d62728","#9467bd","#808080"]}, "legend": {"title": null, "orient": "top-right", "labelExpr": "datum.label=='o'?'oneshot':datum.label=='a'?'ad hoc':datum.label=='g'?'preground':datum.label=='r'?'assume':datum.label=='n'?'nogood':'baseline'"}},
     "strokeDash": {"field": "s", "type": "nominal", "scale": {"domain": ["o","a","g","r","n","b"], "range": [[1,0],[1,0],[1,0],[1,0],[1,0],[1.5,3]]}, "legend": {"title": null, "orient": "top-right", "labelExpr": "datum.label=='o'?'oneshot':datum.label=='a'?'ad hoc':datum.label=='g'?'preground':datum.label=='r'?'assume':datum.label=='n'?'nogood':'baseline'"}}
    }},
   {"data": {"name": "t10"}, "transform": [{"fold": ["o","a","g","r","n"], "as": ["s","v"]}],
    "mark": {"type": "line", "strokeWidth": 0.8, "strokeDash": [3,1.5], "opacity": 0.7, "clip": true},
    "encoding": {
     "x": {"field": "x", "type": "quantitative"},
     "y": {"field": "v", "type": "quantitative"},
     "color": {"field": "s", "type": "nominal", "scale": {"domain": ["o","a","g","r","n","b"], "range": ["#1f77b4","#ff7f0e","#2ca02c","#d62728","#9467bd","#808080"]}, "legend": null}
    }},
   {"data": {"values": [{"x":1,"b":49.5},{"x":100,"b":0}]}, "transform": [{"fold": ["b"], "as": ["s","v"]}],
    "mark": {"type": "line", "strokeWidth": 1.5, "clip": true},
    "encoding": {
     "x": {"field": "x", "type": "quantitative"},
     "y": {"field": "v", "type": "quantitative"},
     "color": {"field": "s", "type": "nominal", "scale": {"domain": ["o","a","g","r","n","b"], "range": ["#1f77b4","#ff7f0e","#2ca02c","#d62728","#9467bd","#808080"]}, "legend": null},
     "strokeDash": {"field": "s", "type": "nominal", "scale": {"domain": ["o","a","g","r","n","b"], "range": [[1,0],[1,0],[1,0],[1,0],[1,0],[1.5,3]]}, "legend": null}
    }}
  ]},
 {"title": "avg #steps and timeout for 12x12", "width": 339, "height": 301,
  "layer": [
   {"data": {"name": "s12"}, "transform": [{"fold": ["o","a","g","r","n"], "as": ["s","v"]}],
    "mark": {"type": "line", "strokeWidth": 1.5, "clip": true},
    "encoding": {
     "x": {"field": "x", "type": "quantitative", "scale": {"domain": [0,144], "nice": false}, "axis": {"values": [0,20,40,60,80,100,120,140]}},
     "y": {"field": "v", "type": "quantitative", "scale": {"domain": [0,61], "nice": false}, "axis": {"values": [0,10,20,30,40,50,60], "labels": false}},
     "color": {"field": "s", "type": "nominal", "scale": {"domain": ["o","a","g","r","n","b"], "range": ["#1f77b4","#ff7f0e","#2ca02c","#d62728","#9467bd","#808080"]}, "legend": {"title": null, "orient": "top-right", "labelExpr": "datum.label=='o'?'oneshot':datum.label=='a'?'ad hoc':datum.label=='g'?'preground':datum.label=='r'?'assume':datum.label=='n'?'nogood':'baseline'"}},
     "strokeDash": {"field": "s", "type": "nominal", "scale": {"domain": ["o","a","g","r","n","b"], "range": [[1,0],[1,0],[1,0],[1,0],[1,0],[1.5,3]]}, "legend": {"title": null, "orient": "top-right", "labelExpr": "datum.label=='o'?'oneshot':datum.label=='a'?'ad hoc':datum.label=='g'?'preground':datum.label=='r'?'assume':datum.label=='n'?'nogood':'baseline'"}}
    }},
   {"data": {"name": "t12"}, "transform": [{"fold": ["o","a","g","r","n"], "as": ["s","v"]}],
    "mark": {"type": "line", "strokeWidth": 0.8, "strokeDash": [3,1.5], "opacity": 0.7, "clip": true},
    "encoding": {
     "x": {"field": "x", "type": "quantitative"},
     "y": {"field": "v", "type": "quantitative"},
     "color": {"field": "s", "type": "nominal", "scale": {"domain": ["o","a","g","r","n","b"], "range": ["#1f77b4","#ff7f0e","#2ca02c","#d62728","#9467bd","#808080"]}, "legend": null}
    }},
   {"data": {"values": [{"x":1,"b":71.5},{"x":144,"b":0}]}, "transform": [{"fold": ["b"], "as": ["s","v"]}],
    "mark": {"type": "line", "strokeWidth": 1.5, "clip": true},
    "encoding": {
     "x": {"field": "x", "type": "quantitative"},
     "y": {"field": "v", "type": "quantitative"},
     "color": {"field": "s", "type": "nominal", "scale": {"domain": ["o","a","g","r","n","b"], "range": ["#1f77b4","#ff7f0e","#2ca02c","#d62728","#9467bd","#808080"]}, "legend": null},
     "strokeDash": {"field": "s", "type": "nominal", "scale": {"domain": ["o","a","g","r","n","b"], "range": [[1,0],[1,0],[1,0],[1,0],[1,0],[1.5,3]]}, "legend": null}
    }}
  ]},
 {"title": "avg #steps and timeout for 14x14", "width": 339, "height": 301,
  "layer": [
   {"data": {"name": "s14"}, "transform": [{"fold": ["o","a","g","r","n"], "as": ["s","v"]}],
    "mark": {"type": "line", "strokeWidth": 1.5, "clip": true},
    "encoding": {
     "x": {"field": "x", "type": "quantitative", "scale": {"domain": [0,196], "nice": false}, "axis": {"values": [0,25,50,75,100,125,150,175]}},
     "y": {"field": "v", "type": "quantitative", "scale": {"domain": [0,109.8], "nice": false}, "axis": {"values": [0,20,40,60,80,100]}},
     "color": {"field": "s", "type": "nominal", "scale": {"domain": ["o","a","g","r","n","b"], "range": ["#1f77b4","#ff7f0e","#2ca02c","#d62728","#9467bd","#808080"]}, "legend": {"title": null, "orient": "top-right", "labelExpr": "datum.label=='o'?'oneshot':datum.label=='a'?'ad hoc':datum.label=='g'?'preground':datum.label=='r'?'assume':datum.label=='n'?'nogood':'baseline'"}},
     "strokeDash": {"field": "s", "type": "nominal", "scale": {"domain": ["o","a","g","r","n","b"], "range": [[1,0],[1,0],[1,0],[1,0],[1,0],[1.5,3]]}, "legend": {"title": null, "orient": "top-right", "labelExpr": "datum.label=='o'?'oneshot':datum.label=='a'?'ad hoc':datum.label=='g'?'preground':datum.label=='r'?'assume':datum.label=='n'?'nogood':'baseline'"}}
    }},
   {"data": {"name": "t14"}, "transform": [{"fold": ["o","a","g","r","n"], "as": ["s","v"]}],
    "mark": {"type": "line", "strokeWidth": 0.8, "strokeDash": [3,1.5], "opacity": 0.7, "clip": true},
    "encoding": {
     "x": {"field": "x", "type": "quantitative"},
     "y": {"field": "v", "type": "quantitative"},
     "color": {"field": "s", "type": "nominal", "scale": {"domain": ["o","a","g","r","n","b"], "range": ["#1f77b4","#ff7f0e","#2ca02c","#d62728","#9467bd","#808080"]}, "legend": null}
    }},
   {"data": {"values": [{"x":1,"b":97.5},{"x":196,"b":0}]}, "transform": [{"fold": ["b"], "as": ["s","v"]}],
    "mark": {"type": "line", "strokeWidth": 1.5, "clip": true},
    "encoding": {
     "x": {"field": "x", "type": "quantitative"},
     "y": {"field": "v", "type": "quantitative"},
     "color": {"field": "s", "type": "nominal", "scale": {"domain": ["o","a","g","r","n","b"], "range": ["#1f77b4","#ff7f0e","#2ca02c","#d62728","#9467bd","#808080"]}, "legend": null},
     "strokeDash": {"field": "s", "type": "nominal", "scale": {"domain": ["o","a","g","r","n","b"], "range": [[1,0],[1,0],[1,0],[1,0],[1,0],[1.5,3]]}, "legend": null}
    }}
  ]},
 {"title": "avg #steps and timeout for 16x16", "width": 339, "height": 301,
  "layer": [
   {"data": {"name": "s16"}, "transform": [{"fold": ["o","a","g","r","n"], "as": ["s","v"]}],
    "mark": {"type": "line", "strokeWidth": 1.5, "clip": true},
    "encoding": {
     "x": {"field": "x", "type": "quantitative", "scale": {"domain": [0,256], "nice": false}, "axis": {"values": [0,50,100,150,200,250]}},
     "y": {"field": "v", "type": "quantitative", "scale": {"domain": [0,109.8], "nice": false}, "axis": {"values": [0,20,40,60,80,100], "labels": false}},
     "color": {"field": "s", "type": "nominal", "scale": {"domain": ["o","a","g","r","n","b"], "range": ["#1f77b4","#ff7f0e","#2ca02c","#d62728","#9467bd","#808080"]}, "legend": {"title": null, "orient": "top-right", "labelExpr": "datum.label=='o'?'oneshot':datum.label=='a'?'ad hoc':datum.label=='g'?'preground':datum.label=='r'?'assume':datum.label=='n'?'nogood':'baseline'"}},
     "strokeDash": {"field": "s", "type": "nominal", "scale": {"domain": ["o","a","g","r","n","b"], "range": [[1,0],[1,0],[1,0],[1,0],[1,0],[1.5,3]]}, "legend": {"title": null, "orient": "top-right", "labelExpr": "datum.label=='o'?'oneshot':datum.label=='a'?'ad hoc':datum.label=='g'?'preground':datum.label=='r'?'assume':datum.label=='n'?'nogood':'baseline'"}}
    }},
   {"data": {"name": "t16"}, "transform": [{"fold": ["o","a","g","r","n"], "as": ["s","v"]}],
    "mark": {"type": "line", "strokeWidth": 0.8, "strokeDash": [3,1.5], "opacity": 0.7, "clip": true},
    "encoding": {
     "x": {"field": "x", "type": "quantitative"},
     "y": {"field": "v", "type": "quantitative"},
     "color": {"field": "s", "type": "nominal", "scale": {"domain": ["o","a","g","r","n","b"], "range": ["#1f77b4","#ff7f0e","#2ca02c","#d62728","#9467bd","#808080"]}, "legend": null}
    }},
   {"data": {"values": [{"x":1,"b":127.5},{"x":256,"b":0}]}, "transform": [{"fold": ["b"], "as": ["s","v"]}],
    "mark": {"type": "line", "strokeWidth": 1.5, "clip": true},
    "encoding": {
     "x": {"field": "x", "type": "quantitative"},
     "y": {"field": "v", "type": "quantitative"},
     "color": {"field": "s", "type": "nominal", "scale": {"domain": ["o","a","g","r","n","b"], "range": ["#1f77b4","#ff7f0e","#2ca02c","#d62728","#9467bd","#808080"]}, "legend": null},
     "strokeDash": {"field": "s", "type": "nominal", "scale": {"domain": ["o","a","g","r","n","b"], "range": [[1,0],[1,0],[1,0],[1,0],[1,0],[1.5,3]]}, "legend": null}
    }}
  ]}
]
}
